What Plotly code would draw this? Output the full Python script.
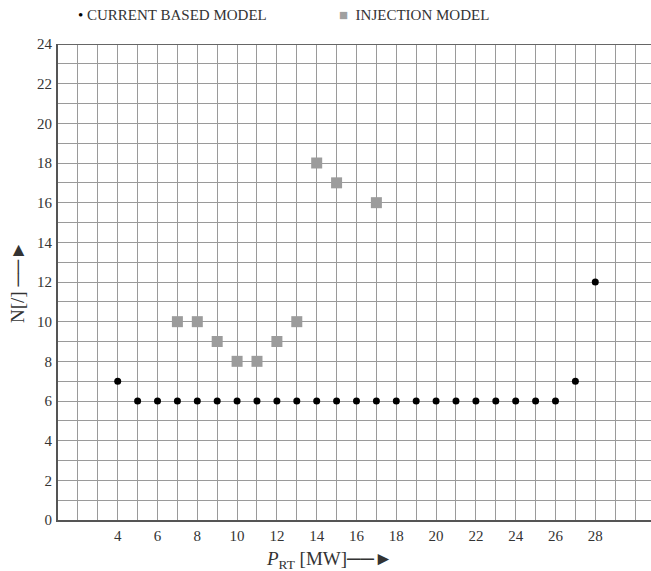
import plotly.graph_objects as go

# Data
current_x = [4, 5, 6, 7, 8, 9, 10, 11, 12, 13, 14, 15, 16, 17, 18, 19, 20, 21, 22, 23, 24, 25, 26, 27, 28]
current_y = [7, 6, 6, 6, 6, 6, 6, 6, 6, 6, 6, 6, 6, 6, 6, 6, 6, 6, 6, 6, 6, 6, 6, 7, 12]
inj_x = [7, 8, 9, 10, 11, 12, 13, 14, 15, 17]
inj_y = [10, 10, 9, 8, 8, 9, 10, 18, 17, 16]
x_ticks = [4, 6, 8, 10, 12, 14, 16, 18, 20, 22, 24, 26, 28]
y_ticks = [0, 2, 4, 6, 8, 10, 12, 14, 16, 18, 20, 22, 24]

FONT = "Liberation Serif"
GRID = "#9a9a9a"

fig = go.Figure()
fig.add_trace(go.Scatter(x=current_x, y=current_y, mode="markers", name="CURRENT BASED MODEL",
                         marker=dict(color="black", size=7, symbol="circle"), showlegend=False))
fig.add_trace(go.Scatter(x=inj_x, y=inj_y, mode="markers", name="INJECTION MODEL",
                         marker=dict(color="#9c9c9c", size=11, symbol="square"), showlegend=False))

fig.update_layout(
    width=651, height=571,
    margin=dict(l=58, r=0, t=44, b=51),
    plot_bgcolor="white", paper_bgcolor="white",
    font=dict(family=FONT, size=15, color="#333"),
)
fig.update_xaxes(
    range=[1, 30.8], tickvals=x_ticks, showgrid=True, gridcolor=GRID, gridwidth=1,
    minor=dict(dtick=1, tick0=0, showgrid=True, gridcolor=GRID, gridwidth=1),
    showline=True, linecolor="#555", linewidth=2, zeroline=False,
    ticks="outside", ticklen=1, tickcolor="rgba(0,0,0,0)",
    tickfont=dict(family=FONT, size=15, color="#333"),
)
fig.update_yaxes(
    range=[0, 24], tickvals=y_ticks, showgrid=True, gridcolor=GRID, gridwidth=1,
    minor=dict(dtick=1, tick0=0, showgrid=True, gridcolor=GRID, gridwidth=1),
    showline=True, linecolor="#555", linewidth=2, zeroline=False,
    ticks="outside", ticklen=1, tickcolor="rgba(0,0,0,0)",
    tickfont=dict(family=FONT, size=15, color="#333"),
)
# top border
fig.add_shape(type="line", xref="paper", yref="y", x0=0, x1=1, y0=24, y1=24,
              line=dict(color="#666", width=2))

# legend as annotations
fig.add_annotation(xref="paper", yref="paper", x=(76 - 58) / 593, y=1, yshift=29, xanchor="left",
                   yanchor="middle", showarrow=False,
                   text="<span style='color:black'>•</span> CURRENT BASED MODEL",
                   font=dict(family=FONT, size=15, color="#333"))
fig.add_annotation(xref="paper", yref="paper", x=(337 - 58) / 593, y=1, yshift=29, xanchor="left",
                   yanchor="middle", showarrow=False,
                   text="<span style='color:#a0a0a0'>■</span>  INJECTION MODEL",
                   font=dict(family=FONT, size=15, color="#333"))

# axis titles
fig.add_annotation(xref="paper", yref="paper", x=(329 - 58) / 593, y=0, yshift=-40,
                   xanchor="center", yanchor="middle", showarrow=False,
                   text="<i>P</i><sub>RT</sub> [MW]──►",
                   font=dict(family=FONT, size=19, color="#333"))
fig.add_annotation(xref="paper", yref="paper", x=0, xshift=-41, y=0.5,
                   xanchor="center", yanchor="middle", showarrow=False, textangle=-90,
                   text="N[/] ──►",
                   font=dict(family=FONT, size=19, color="#333"))

fig.write_html("out.html", config={"displayModeBar": False},
               post_script="document.body.style.margin='0';document.body.style.overflow='hidden';")
